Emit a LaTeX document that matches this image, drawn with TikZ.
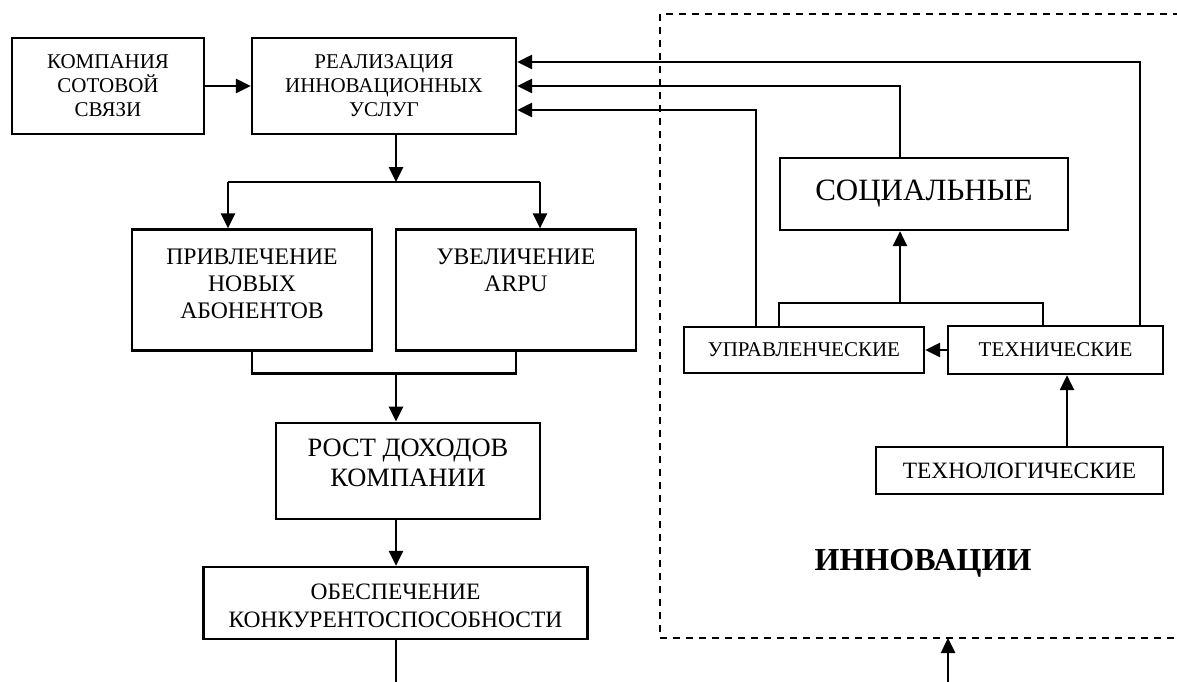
\documentclass[tikz,border=0pt]{standalone}
\usepackage{fontspec}
\setmainfont{Liberation Serif}
\usetikzlibrary{arrows.meta,calc}
\begin{document}
\begin{tikzpicture}[x=1pt,y=-1pt,
  box/.style={draw,line width=2.2pt,inner sep=0pt,align=center},
  lbl/.style={inner sep=0pt,align=center,anchor=north},
  link/.style={line width=2.6pt},
  arr/.style={link,-{Triangle[length=15pt,width=14pt]}},
  zone/.style={line width=2.2pt,dash pattern=on 7pt off 6pt},
  fa/.style={font=\fontsize{21}{24}\selectfont},
  fb/.style={font=\fontsize{23.7}{27}\selectfont},
  fc/.style={font=\fontsize{26.5}{30}\selectfont},
  fd/.style={font=\fontsize{23.5}{28}\selectfont}]
\useasboundingbox (0,0) rectangle (1177,682);

% --- company side ---
\node[box,fa,minimum width=192pt,minimum height=96pt] (komp) at (108,86)
  {КОМПАНИЯ\\СОТОВОЙ\\СВЯЗИ};
\node[box,fa,minimum width=264pt,minimum height=96pt] (real) at (384,86)
  {РЕАЛИЗАЦИЯ\\ИННОВАЦИОННЫХ\\УСЛУГ};

\node[box,minimum width=240pt,minimum height=121pt] (privl) at (252,290) {};
\node[lbl,fb] (privlT) at ($(privl.north)+(0,17)$) {\strut ПРИВЛЕЧЕНИЕ\\НОВЫХ\\АБОНЕНТОВ};
\node[box,minimum width=240pt,minimum height=121pt] (uvel) at (516,290) {};
\node[lbl,fb] (uvelT) at ($(uvel.north)+(0,17)$) {\strut УВЕЛИЧЕНИЕ\\ARPU};

\node[box,minimum width=264pt,minimum height=96pt] (rost) at (408,470.7) {};
\node[lbl,fc] (rostT) at ($(rost.north)+(0,14)$) {\strut РОСТ ДОХОДОВ\\КОМПАНИИ};

\node[box,minimum width=384pt,minimum height=72pt] (obesp) at (395.5,603) {};
\node[lbl,fd] (obespT) at ($(obesp.north)+(0,13.5)$) {\strut ОБЕСПЕЧЕНИЕ\\КОНКУРЕНТОСПОСОБНОСТИ};

% --- innovations side ---
\draw[zone] (1180,14) -- (660,14) -- (660,638) -- (1180,638);
\node[box,font=\fontsize{31}{34}\selectfont,minimum width=288pt,minimum height=72pt] (soc) at (924,194) {СОЦИАЛЬНЫЕ};
\node[box,fa,minimum width=240pt,minimum height=46pt] (upr) at (804,350) {УПРАВЛЕНЧЕСКИЕ};
\node[box,fa,minimum width=215pt,minimum height=48pt] (tech) at (1055.5,350) {ТЕХНИЧЕСКИЕ};
\node[box,font=\fontsize{23.4}{26}\selectfont,minimum width=287pt,minimum height=47pt] (techn) at (1019.5,470.5) {ТЕХНОЛОГИЧЕСКИЕ};
\node[inner sep=0pt,anchor=base,font=\fontsize{32}{36}\selectfont\bfseries] (innov) at (923,570) {ИННОВАЦИИ};

% --- routing points ---
\coordinate (split) at (396,182);
\coordinate (splitL) at (228,182);
\coordinate (splitR) at (540,182);
\coordinate (merge) at (396,373.3);
\coordinate (exitL) at (396,682);
\coordinate (zoneB) at (948,638);
\coordinate (entryB) at (948,682);
\coordinate (fbTop) at (1140,62);
\coordinate (fbMid) at (900,86);
\coordinate (fbLow) at (756,110);
\coordinate (join) at (900,303);
\coordinate (joinL) at (779,303);
\coordinate (joinR) at (1043,303);

% --- connectors, left ---
\draw[arr] (komp.east) -- (real.west);
\draw[arr] (real.south -| split) -- (split);
\draw[link] (splitL) -- (splitR);
\draw[arr] (splitL) -- (privl.north -| splitL);
\draw[arr] (splitR) -- (uvel.north -| splitR);
\draw[link] (privl.south) |- (merge) -| (uvel.south);
\draw[arr] (merge) -- (rost.north -| merge);
\draw[arr] (rost.south -| merge) -- (obesp.north -| merge);
\draw[link] (obesp.south -| exitL) -- (exitL);

% --- connectors, right ---
\draw[arr] (tech.north -| fbTop) |- ([yshift=24pt]real.east);
\draw[arr] (soc.north -| fbMid) |- (real.east);
\draw[arr] (upr.north -| fbLow) |- ([yshift=-24pt]real.east);
\draw[link] (upr.north -| joinL) -- (joinL) -- (joinR) -- (tech.north -| joinR);
\draw[arr] (join) -- (soc.south -| join);
\draw[arr] (tech.west) -- (upr.east);
\draw[arr] (techn.north -| 1067,0) -- (tech.south -| 1067,0);
\draw[arr] (entryB) -- (zoneB);
\end{tikzpicture}
\end{document}
